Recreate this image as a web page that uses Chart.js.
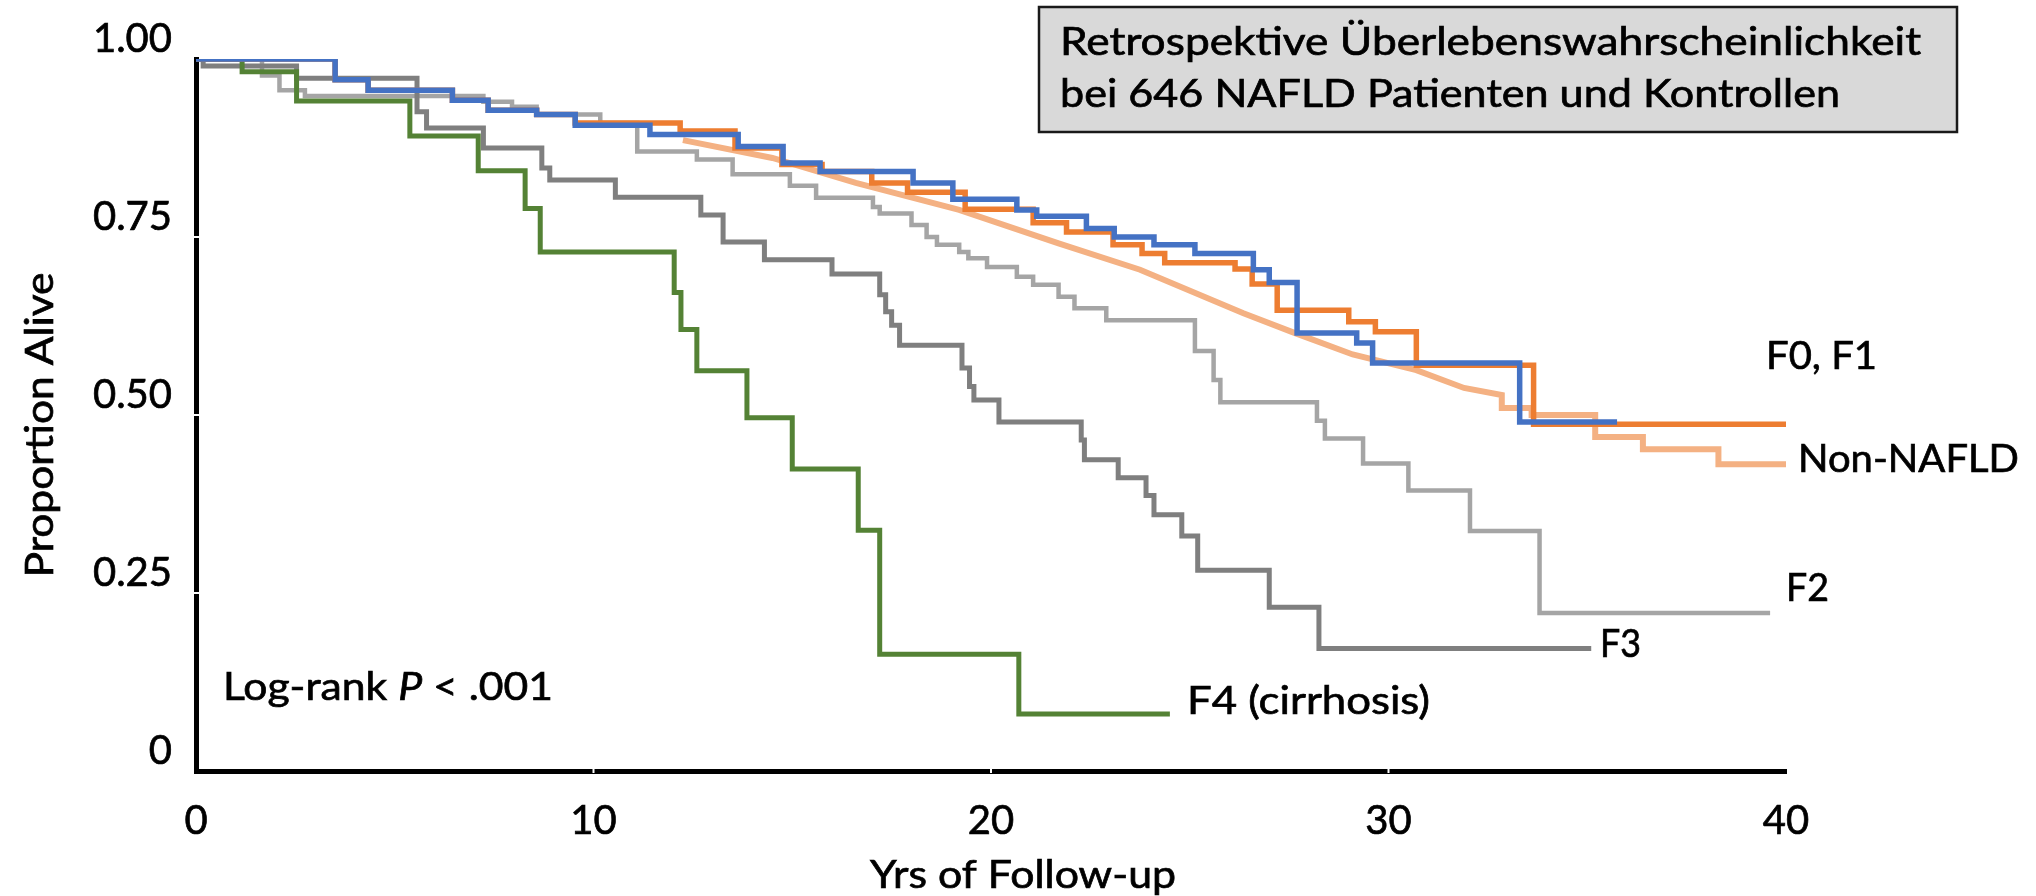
<!DOCTYPE html>
<html>
<head>
<meta charset="utf-8">
<title>Retrospektive Überlebenswahrscheinlichkeit</title>
<script src="https://cdn.jsdelivr.net/npm/chart.js@4.4.1/dist/chart.umd.min.js"></script>
<style>
  html, body { margin: 0; padding: 0; background: #fff; }
  canvas { display: block; }
</style>
</head>
<body>
<canvas id="kmChart" width="2036" height="896"></canvas>
<script>
// ---- data (years of follow-up / proportion alive) ----

var xTickValues = [0, 10, 20, 30, 40];
var yTickValues = [0, 0.25, 0.5, 0.75, 1];
var yTickLabels = ['0', '0.25', '0.50', '0.75', '1.00'];

// F0, F1 (blue)
var f01BlueYears = [0, 3.5, 4.33, 6.45, 7.35, 8.57, 9.54, 11.42, 13.64, 14.77, 15.7, 18.04, 19.04, 20.65, 21.15, 22.4, 23.1, 24.1, 25.13, 26.6, 27.0, 27.7, 29.2, 29.6, 33.3, 35.75];
var f01BlueAlive = [1, 0.971, 0.956, 0.942, 0.928, 0.922, 0.907, 0.894, 0.877, 0.854, 0.842, 0.826, 0.803, 0.788, 0.779, 0.762, 0.75, 0.739, 0.727, 0.704, 0.686, 0.615, 0.601, 0.573, 0.49, 0.49];

// F0, F1 (orange)
var f01OrangeYears = [0, 3.5, 4.33, 6.45, 7.35, 8.57, 9.54, 12.18, 13.56, 14.74, 15.75, 17.0, 17.9, 19.35, 21.06, 21.9, 23.07, 23.8, 24.37, 26.14, 26.57, 27.2, 29.0, 29.67, 30.7, 33.65, 40.0];
var f01OrangeAlive = [1, 0.971, 0.956, 0.942, 0.928, 0.922, 0.91, 0.899, 0.875, 0.852, 0.842, 0.826, 0.813, 0.789, 0.77, 0.757, 0.739, 0.727, 0.714, 0.705, 0.684, 0.647, 0.631, 0.617, 0.57, 0.487, 0.487];

// Non-NAFLD controls (light orange, expected curve)
var nonNafldYears = [12.25, 14.5, 16.6, 19.2, 21.7, 23.75, 26.35, 27.6, 29.1, 30.7, 31.9, 32.85, 32.85, 33.6, 33.6, 35.2, 35.2, 36.4, 36.4, 38.3, 38.3, 40.1];
var nonNafldAlive = [0.886, 0.861, 0.826, 0.788, 0.741, 0.704, 0.643, 0.616, 0.585, 0.563, 0.538, 0.528, 0.51, 0.51, 0.5, 0.5, 0.469, 0.469, 0.452, 0.452, 0.431, 0.431];

// F2 (light grey)
var f2Years = [0, 1.66, 2.1, 2.74, 7.23, 7.95, 8.57, 10.17, 11.1, 12.6, 13.5, 14.94, 15.6, 17.03, 17.2, 18.0, 18.38, 18.64, 19.2, 19.43, 19.9, 20.65, 21.06, 21.7, 22.1, 22.9, 25.13, 25.6, 25.77, 28.2, 28.4, 29.36, 30.5, 32.05, 33.8, 39.6];
var f2Alive = [1, 0.977, 0.956, 0.948, 0.94, 0.933, 0.922, 0.91, 0.87, 0.859, 0.838, 0.822, 0.805, 0.792, 0.783, 0.767, 0.75, 0.739, 0.729, 0.72, 0.708, 0.694, 0.683, 0.666, 0.65, 0.633, 0.59, 0.549, 0.518, 0.492, 0.467, 0.432, 0.394, 0.337, 0.222, 0.222];

// F3 (dark grey)
var f3Years = [0, 0.18, 2.53, 5.56, 5.8, 7.23, 8.7, 8.9, 10.55, 12.7, 13.26, 14.3, 16.0, 17.2, 17.35, 17.5, 17.7, 19.27, 19.46, 19.57, 20.2, 22.27, 22.35, 23.2, 23.9, 24.1, 24.8, 25.2, 27.0, 28.25, 35.1];
var f3Alive = [1, 0.99, 0.973, 0.926, 0.903, 0.875, 0.847, 0.83, 0.806, 0.781, 0.743, 0.718, 0.698, 0.669, 0.645, 0.626, 0.598, 0.566, 0.54, 0.521, 0.49, 0.465, 0.437, 0.412, 0.387, 0.36, 0.33, 0.282, 0.23, 0.172, 0.172];

// F4 cirrhosis (green)
var f4Years = [0, 1.16, 2.53, 5.38, 7.1, 8.28, 8.66, 12.03, 12.2, 12.6, 13.86, 15.0, 16.66, 17.2, 20.7, 24.5];
var f4Alive = [1, 0.982, 0.941, 0.892, 0.843, 0.79, 0.729, 0.672, 0.62, 0.562, 0.496, 0.424, 0.338, 0.164, 0.08, 0.08];

function toPoints(xs, ys) {
	return xs.map(function (x, i) { return {x: x, y: ys[i]}; });
}

// ---- text drawn on top of the chart ----

var FONT = 'Lato, "Open Sans", sans-serif';

// draws text squeezed/stretched to a given width (source font was Calibri)
function fitText(ctx, parts, x, y, width, rotate) {
	var total = 0;
	parts.forEach(function (p) { ctx.font = p[1]; total += ctx.measureText(p[0]).width; });
	ctx.save();
	ctx.translate(x, y);
	if (rotate) ctx.rotate(rotate);
	ctx.scale(width / total, 1);
	var cx = rotate ? -total / 2 : 0;
	parts.forEach(function (p) {
		ctx.font = p[1];
		ctx.fillText(p[0], cx, 0);
		ctx.strokeText(p[0], cx, 0);
		cx += ctx.measureText(p[0]).width;
	});
	ctx.restore();
}

var normal = '39px ' + FONT;
var italic = 'italic 39px ' + FONT;

var overlay = {
	id: 'overlay',
	afterDraw: function (chart) {
		var ctx = chart.ctx;
		var xs = chart.scales.x, ys = chart.scales.y;
		ctx.save();

		// white tick notches on the axis lines
		ctx.fillStyle = '#fff';
		[0.25, 0.5, 0.75].forEach(function (v) {
			var py = ys.getPixelForValue(v);
			ctx.fillRect(chart.chartArea.left - 2, py - 1, 5, 2);
		});
		[10, 20, 30].forEach(function (v) {
			var px = xs.getPixelForValue(v);
			ctx.fillRect(px - 1, chart.chartArea.bottom - 2, 2, 4);
		});

		// title box
		ctx.fillStyle = '#d9d9d9';
		ctx.fillRect(1039, 7, 918, 125);
		ctx.strokeStyle = '#1a1a1a';
		ctx.lineWidth = 2.5;
		ctx.strokeRect(1039, 7, 918, 125);

		ctx.fillStyle = '#000';
		ctx.strokeStyle = '#000';
		ctx.lineWidth = 0.7;
		ctx.textBaseline = 'alphabetic';
		ctx.textAlign = 'left';
		fitText(ctx, [['Retrospektive Überlebenswahrscheinlichkeit', normal]], 1060, 55, 861);
		fitText(ctx, [['bei 646 NAFLD Patienten und Kontrollen', normal]], 1060, 107, 780);

		// curve labels
		fitText(ctx, [['F0, F1', normal]], 1766, 369, 111);
		fitText(ctx, [['Non-NAFLD', normal]], 1798, 472, 221);
		fitText(ctx, [['F2', normal]], 1786, 601, 43);
		fitText(ctx, [['F3', normal]], 1600, 657, 41);
		fitText(ctx, [['F4 (cirrhosis)', normal]], 1187, 714, 243);
		fitText(ctx, [['Log-rank ', normal], ['P', italic], [' < .001', normal]], 223, 700, 330);

		// axis titles
		fitText(ctx, [['Yrs of Follow-up', normal]], 870, 888, 306);
		fitText(ctx, [['Proportion Alive', normal]], 53, 425, 305, -Math.PI / 2);

		ctx.restore();
	}
};

Chart.defaults.font.family = FONT;
Chart.defaults.color = '#000';

new Chart('kmChart', {
	type: 'line',
	data: {
		datasets: [
			{ label: 'F0, F1', data: toPoints(f01BlueYears, f01BlueAlive), borderColor: '#4472c4', borderWidth: 5.5, stepped: 'before' },
			{ label: 'F0, F1 (2)', data: toPoints(f01OrangeYears, f01OrangeAlive), borderColor: '#ed7d31', borderWidth: 5.5, stepped: 'before' },
			{ label: 'Non-NAFLD', data: toPoints(nonNafldYears, nonNafldAlive), borderColor: '#f4b183', borderWidth: 6, tension: 0 },
			{ label: 'F4 (cirrhosis)', data: toPoints(f4Years, f4Alive), borderColor: '#548235', borderWidth: 5, stepped: 'before' },
			{ label: 'F3', data: toPoints(f3Years, f3Alive), borderColor: '#7f7f7f', borderWidth: 5, stepped: 'before' },
			{ label: 'F2', data: toPoints(f2Years, f2Alive), borderColor: '#a5a5a5', borderWidth: 4.5, stepped: 'before' }
		]
	},
	options: {
		responsive: false,
		animation: false,
		events: [],
		elements: { point: { radius: 0 } },
		layout: { padding: { top: 59, right: 250, left: 0, bottom: 0 } },
		plugins: {
			legend: { display: false },
			tooltip: { enabled: false },
			title: { display: false }
		},
		scales: {
			x: {
				type: 'linear',
				min: 0,
				max: 40,
				afterBuildTicks: function (scale) { scale.ticks = xTickValues.map(function (v) { return {value: v}; }); },
				afterFit: function (scale) { scale.height = 125; },
				grid: { display: false, drawTicks: false },
				border: { color: '#000', width: 5 },
				ticks: { font: { size: 40 }, padding: 26, maxRotation: 0, textStrokeColor: '#000', textStrokeWidth: 0.7 }
			},
			y: {
				type: 'linear',
				min: 0,
				max: 1,
				afterBuildTicks: function (scale) { scale.ticks = yTickValues.map(function (v) { return {value: v}; }); },
				afterFit: function (scale) { scale.width = 196; },
				grid: { display: false, drawTicks: false },
				border: { color: '#000', width: 5 },
				ticks: {
					font: { size: 40 },
					padding: 24,
					labelOffset: -20,
					textStrokeColor: '#000',
					textStrokeWidth: 0.7,
					callback: function (value, index) { return yTickLabels[index]; }
				}
			}
		}
	},
	plugins: [overlay]
});
</script>
</body>
</html>
